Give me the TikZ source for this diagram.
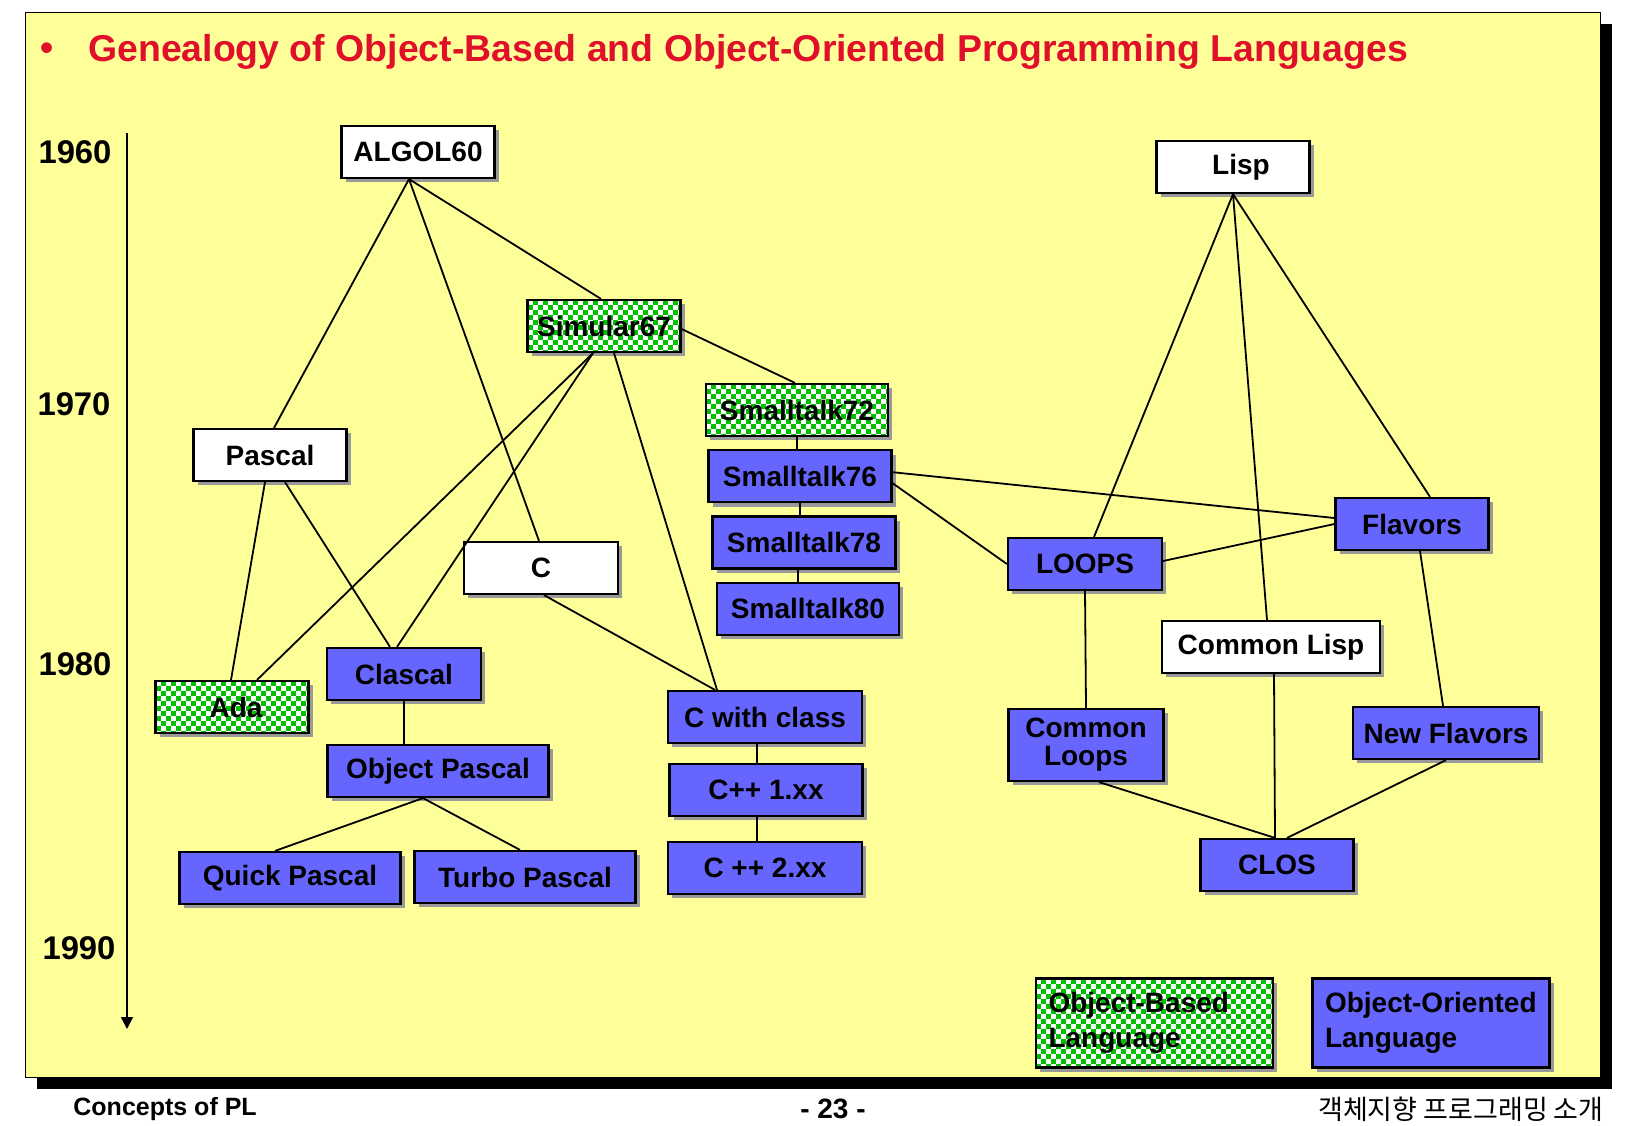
\documentclass[tikz,border=0pt]{standalone}
\usepackage{fontspec}
\setmainfont{Liberation Sans}
\newfontfamily\hangulfont{Noto Sans CJK KR}
\usetikzlibrary{arrows.meta, positioning, calc, shadows}
\definecolor{slidebg}{HTML}{FFFF99}
\definecolor{oofill}{HTML}{6666FF}
\definecolor{obgreen}{HTML}{00C000}
\definecolor{titlered}{HTML}{E0102A}
\definecolor{boxshadow}{HTML}{999999}

\begin{document}
\begin{tikzpicture}[
  x=0.5pt, y=-0.5pt,
  node distance=6pt and 6pt,
  lang/.style={
    rectangle, draw=black, line width=1.1pt,
    minimum width=76.5pt, minimum height=26pt, inner sep=2pt,
    align=center, font=\fontsize{14}{14}\selectfont\bfseries,
    drop shadow={shadow xshift=2.2pt, shadow yshift=-2.2pt, fill=boxshadow, opacity=1}
  },
  plainlang/.style={lang, fill=white},
  oblang/.style={lang, fill=obgreen,
    path picture={
      \foreach \j in {0,...,19} {
        \pgfmathsetmacro\rowoff{mod(\j,2)*5}
        \foreach \i in {0,10,...,250}
          \fill[white] ($(path picture bounding box.north west)+(\i+\rowoff,\j*5)$) rectangle ++(5,5);
      }
    }},
  oolang/.style={lang, fill=oofill},
  keybox/.style={minimum width=118.5pt, minimum height=44.5pt, text width=106pt,
    inner xsep=6pt, align=left, font=\fontsize{14}{17.5}\selectfont\bfseries},
  link/.style={line width=0.9pt, black},
  year/.style={font=\fontsize{16.4}{18}\selectfont\bfseries}
]
  \fill[white] (0,0) rectangle (1625,1125);
  \useasboundingbox (0,0) rectangle (1625,1125);

  % slide frame
  \fill[black] (37,24) rectangle (1612,1089);
  \draw[fill=slidebg, line width=0.5pt] (25,12) rectangle (1600,1077);

  \node[text=titlered, font=\fontsize{18.7}{20}\selectfont\bfseries] (bullet) at (47,52) {•};
  \node[anchor=west, inner sep=0pt, text=titlered, font=\fontsize{18.7}{20}\selectfont\bfseries] (title) at (88,52)
    {Genealogy of Object-Based and Object-Oriented Programming Languages};

  % time axis
  \coordinate (axtop) at (127,133);
  \coordinate (axbot) at (127,1029);
  \draw[line width=0.9pt, -{Triangle[length=6pt, width=6pt]}] (axtop) -- (axbot);
  \node[year] (y1960) at (75,152) {1960};
  \node[year] (y1970) at (74,404) {1970};
  \node[year] (y1980) at (75,664) {1980};
  \node[year] (y1990) at (79,948) {1990};

  \node[plainlang] (algol) at (418,152) {ALGOL60};
  \node[plainlang] (lisp) at (1233,167) {\hspace*{8pt}Lisp};
  \node[oblang] (simula) at (604,326) {Simular67};
  \node[oblang, minimum width=91pt] (st72) at (797,410) {Smalltalk72};
  \node[oolang, minimum width=91.5pt, below=of st72, xshift=1.5pt] (st76) {Smalltalk76};
  \node[oolang, minimum width=91.5pt, below=of st76, xshift=2pt] (st78) {Smalltalk78};
  \node[oolang, minimum width=91pt, below=of st78, xshift=2pt] (st80) {Smalltalk80};
  \node[plainlang] (pascal) at (270,455) {Pascal};
  \node[plainlang, minimum width=77pt] (clang) at (541,568) {C};
  \node[oolang, minimum width=77pt] (loops) at (1085,564) {LOOPS};
  \node[oolang] (flavors) at (1412,524) {Flavors};
  \node[plainlang, minimum width=109pt] (clisp) at (1271,647) {Common Lisp};
  \node[oolang, minimum width=93pt] (nflavors) at (1446,733) {New Flavors};
  \node[oolang] (clos) at (1277,865) {CLOS};
  \node[oolang, minimum width=77.5pt, minimum height=36pt] (cloops) at (1086,745) {Common\\Loops};
  \node[oblang] (ada) at (232,707) {\hspace*{4pt}Ada};
  \node[oolang, minimum width=77pt] (clascal) at (404,674) {Clascal};
  \node[oolang, minimum width=110.5pt] (opascal) at (438,771) {Object Pascal};
  \node[oolang, minimum width=110.5pt] (qpascal) at (290,878) {Quick Pascal};
  \node[oolang, minimum width=110.5pt] (tpascal) at (525,877) {Turbo Pascal};
  \node[oolang, minimum width=97pt] (cwc) at (765,717) {C with class};
  \node[oolang, minimum width=96.5pt] (cpp1) at (766,790) {C++ 1.xx};
  \node[oolang, minimum width=97pt] (cpp2) at (765,868) {C ++ 2.xx};

  \draw[link] ($(algol.south)+(-9,0)$) -- ($(pascal.north)+(4,0)$);
  \draw[link] ($(algol.south)+(-9,0)$) -- ($(clang.north)+(-2,0)$);
  \draw[link] ($(algol.south)+(-9,0)$) -- ($(simula.north)+(-3,0)$);
  \draw[link] ($(simula.south)+(-11,0)$) -- ($(ada.north)+(25,0)$);
  \draw[link] ($(simula.south)+(-11,0)$) -- ($(clascal.north)+(-7,0)$);
  \draw[link] ($(simula.south)+(10,0)$) -- ($(cwc.north)+(-48,0)$);
  \draw[link] ($(simula.east)+(0,3)$) -- ($(st72.north)+(-2,0)$);
  \draw[link] (st72.south) -- (st72.south |- st76.north);
  \draw[link] (st76.south) -- (st76.south |- st78.north);
  \draw[link] ($(st78.south)+(-6,0)$) -- ($(st78.south |- st80.north)+(-6,0)$);
  \draw[link] ($(st76.east)+(0,-4)$) -- ($(flavors.west)+(0,-6)$);
  \draw[link] ($(st76.east)+(0,7)$) -- (loops.west);
  \draw[link] ($(loops.east)+(0,-3)$) -- (flavors.west);
  \draw[link] (lisp.south) -- ($(loops.north)+(9,0)$);
  \draw[link] (lisp.south) -- ($(clisp.north)+(-4,0)$);
  \draw[link] (lisp.south) -- ($(flavors.north)+(18,0)$);
  \draw[link] (loops.south) -- (cloops.north);
  \draw[link] ($(flavors.south)+(8,0)$) -- ($(nflavors.north)+(-3,0)$);
  \draw[link] ($(cloops.south)+(13,0)$) -- ($(clos.north)+(-2,0)$);
  \draw[link] ($(clisp.south)+(3,0)$) -- ($(clos.north)+(-2,0)$);
  \draw[link] (nflavors.south) -- ($(clos.north)+(10,0)$);
  \draw[link] ($(pascal.south)+(-5,0)$) -- ($(ada.north)+(-1,0)$);
  \draw[link] ($(pascal.south)+(15,0)$) -- ($(clascal.north)+(-14,0)$);
  \draw[link] (clascal.south) -- (clascal.south |- opascal.north);
  \draw[link] ($(opascal.south)+(-15,0)$) -- ($(qpascal.north)+(-15,0)$);
  \draw[link] ($(opascal.south)+(-15,0)$) -- ($(tpascal.north)+(-5,0)$);
  \draw[link] ($(clang.south)+(3,0)$) -- ($(cwc.north)+(-50,0)$);
  \draw[link] ($(cwc.south)+(-8,0)$) -- ($(cwc.south |- cpp1.north)+(-8,0)$);
  \draw[link] ($(cpp1.south)+(-9,0)$) -- ($(cpp1.south |- cpp2.north)+(-9,0)$);

  % legend
  \node[oblang, keybox] (keyob) at (1154.5,1023) {Object-Based\\Language};
  \node[oolang, keybox] (keyoo) at (1431,1023) {Object-Oriented\\Language};

  % footer
  \node[anchor=west, inner sep=0pt, font=\fontsize{12.5}{14}\selectfont\bfseries] (course) at (73,1109) {Concepts of PL};
  \node[inner sep=0pt, font=\fontsize{14}{16}\selectfont\bfseries] (page) at (833,1109) {- 23 -};
  \node[anchor=east, inner sep=0pt, font=\hangulfont\fontsize{13.5}{16}\selectfont] (subject) at (1604,1109) {객체지향 프로그래밍 소개};
\end{tikzpicture}
\end{document}
